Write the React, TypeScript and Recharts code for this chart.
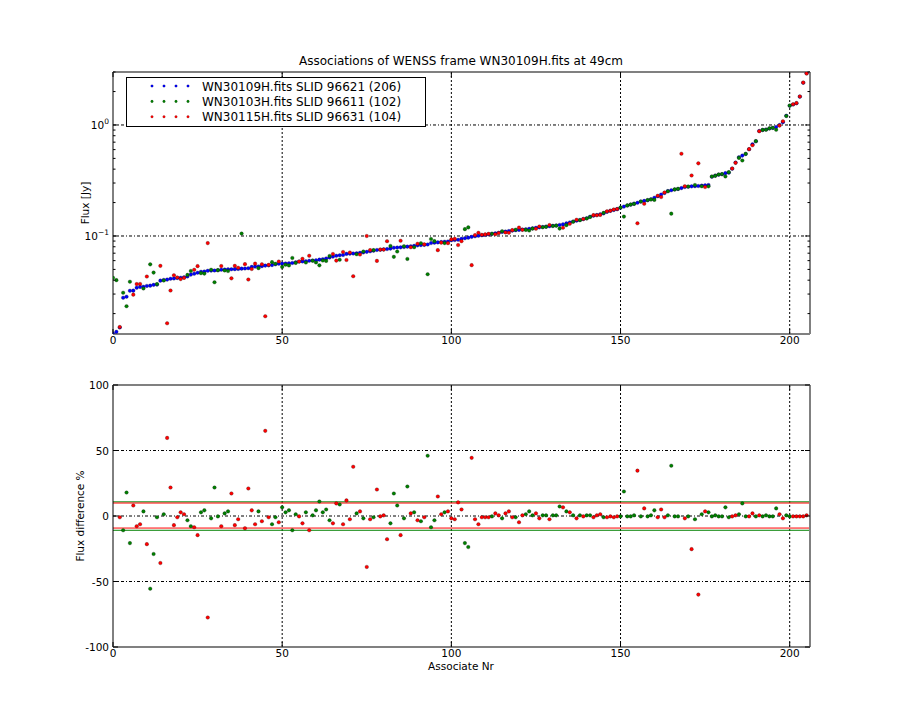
import React from 'react';
import { ScatterChart, Scatter, XAxis, YAxis, ReferenceLine } from 'recharts';

// Flux of the WN30109H.fits source (blue), one per associate, sorted
const blueFlux = [
  0.0132, 0.0137, 0.015, 0.0278, 0.0284, 0.0321, 0.0322, 0.0342, 0.0348, 0.0349,
  0.0355, 0.0357, 0.0363, 0.0365, 0.0396, 0.0402, 0.0405, 0.0412, 0.0414, 0.0419,
  0.0421, 0.0425, 0.0432, 0.0449, 0.0457, 0.0467, 0.0476, 0.0479, 0.0486, 0.0488,
  0.0489, 0.0491, 0.0497, 0.0499, 0.0501, 0.0502, 0.0503, 0.0505, 0.0508, 0.051,
  0.0513, 0.0527, 0.053, 0.0532, 0.0535, 0.0541, 0.0544, 0.0547, 0.0556, 0.0562,
  0.0564, 0.0566, 0.0568, 0.0572, 0.058, 0.0588, 0.059, 0.0593, 0.0598, 0.0601,
  0.0604, 0.0612, 0.0618, 0.0628, 0.064, 0.0652, 0.0664, 0.067, 0.0675, 0.069,
  0.0693, 0.0696, 0.0699, 0.0705, 0.0712, 0.072, 0.0728, 0.0738, 0.0748, 0.0752,
  0.0758, 0.0763, 0.077, 0.0784, 0.0787, 0.079, 0.0795, 0.0802, 0.0808, 0.0815,
  0.0824, 0.0828, 0.0832, 0.0838, 0.0864, 0.087, 0.0876, 0.0883, 0.0888, 0.0893,
  0.0915, 0.092, 0.0925, 0.0945, 0.0955, 0.0966, 0.0982, 0.0994, 0.1005, 0.1015,
  0.1023, 0.1035, 0.1045, 0.1058, 0.1068, 0.1085, 0.1098, 0.1108, 0.1118, 0.1128,
  0.1135, 0.1142, 0.115, 0.116, 0.1172, 0.1185, 0.1196, 0.1205, 0.1215, 0.1225,
  0.1235, 0.1245, 0.1258, 0.1272, 0.1298, 0.1325, 0.135, 0.1375, 0.1395, 0.142,
  0.1445, 0.149, 0.1525, 0.1545, 0.157, 0.16, 0.165, 0.1685, 0.1715, 0.1745,
  0.18, 0.184, 0.188, 0.1915, 0.1955, 0.199, 0.204, 0.207, 0.21, 0.214,
  0.221, 0.228, 0.236, 0.244, 0.254, 0.258, 0.262, 0.265, 0.27, 0.276,
  0.278, 0.28, 0.281, 0.282, 0.284, 0.286, 0.288, 0.342, 0.35, 0.357,
  0.36, 0.368, 0.372, 0.404, 0.458, 0.512, 0.53, 0.548, 0.604, 0.67,
  0.713, 0.883, 0.9, 0.91, 0.93, 0.94, 0.96, 1.0, 1.06, 1.21,
  1.49, 1.53, 1.57, 1.8, 2.4, 2.92,
];

// which frame each associate was matched in: G = WN30103H, R = WN30115H
const matchRows = [
  'GGRGGGRRRG', 'RGGGRGRRRR', 'RRGGRRGGRG', 'GGRGGRRRGR', 'RRRGRRRGGR',
  'GGGGGRRGRG', 'GGGGGRRGRR', 'RRGRGRRGRR', 'RRGGGRGGRG', 'RGRGGGRRGR',
  'RRRRGGRRRR', 'RRGRRGRRRG', 'RRGGGRRGGR', 'GGGRGRGRGR', 'GGRRRGRRRR',
  'GGGGGRGRGG', 'GRRRGGGGRR', 'GRGRGRGGGG', 'GGGRRGGGRR', 'GRGGGGGRRG',
  'GRRRRR',
];
const matchSource = matchRows.join('');

// flux difference % of the matched source against the blue one
const fluxDiff = [
  -218, -192, -1, -10.9, 17.9, -20.7, 8, -7.8, -6.3, 3.5,
  -21.5, -55.5, -29, -1, -35.9, 1.3, 59.6, 21.7, -7, -1,
  2.8, 1.3, -3.3, -7.8, -8.6, -14.6, 2.8, 4.3, -77.5, -1.8,
  21.7, -0.3, -7.8, 2, 3.5, 17.2, -7, -2.5, -107, -9.3,
  21, 4.3, -6.3, 3.5, -4, 65, -1, -6.3, -1, -4.8,
  6.6, 2.8, 4.3, -10.9, 1.3, -0.3, -5.6, 2.8, -10.9, 0.5,
  4.3, 11.1, 2.8, 5, -3.3, -5.6, 9.6, 8.8, -6.3, 11.9,
  -2.5, 37.6, 2, 3.5, -1.8, -38.9, -2.5, -1, 20.2, -0.3,
  0.5, -17.7, -5.6, 17.2, 8, -14.6, -1.8, 22.5, 2, 2.8,
  -3.3, -4, -1, 46, -8.6, -3.3, 14.9, 1.3, 2.8, 3.5,
  -1.8, -2.5, 10.4, 5, -20.7, -23.7, 44.4, -2.5, -6.3, -1,
  -1, -1, -0.3, 2, 0.5, -1.8, 2, 3.5, -1, -1,
  -4.8, 0.5, 1.3, 3.5, 0.5, 2, -1.8, 0.5, 0.5, -2.5,
  0.5, 0.5, 7.3, 6.6, 3.5, 2.8, 0.5, -1.8, 0.5, -0.3,
  0.5, 0.5, -1, 0.5, 1.3, -1, -1, -0.3, -1, -0.3,
  -0.3, 18.7, -0.3, -0.3, 0.5, 34.6, -0.3, 5.8, -0.3, 0.5,
  4.3, -1, 5, -1, 0.5, 38.4, -0.3, -0.3, -104, -1.8,
  -0.3, -25.3, -2.5, -60, 1.3, 3.5, 2.8, -0.3, 0.5, -0.3,
  -0.3, 6.6, -1, -0.3, 0.5, 1.3, 9.6, -0.3, -0.3, 2,
  -0.3, 0.5, -0.3, 0.5, -0.3, -0.3, 5.8, 1.3, -1.8, 0.5,
  -0.3, -0.3, -0.3, -0.3, -0.3, 0.5,
];

const legendLabels = [
  'WN30109H.fits SLID 96621 (206)',
  'WN30103H.fits SLID 96611 (102)',
  'WN30115H.fits SLID 96631 (104)',
];
const xTicks = [0, 50, 100, 150, 200];
const fluxTicks = [
  0.02, 0.03, 0.04, 0.05, 0.06, 0.07, 0.08, 0.09,
  0.1, 0.2, 0.3, 0.4, 0.5, 0.6, 0.7, 0.8, 0.9,
  1, 2, 3,
];
const fluxMajor = [0.1, 1];
const fluxMajorLabel: Record<string, string> = { '0.1': '\u22121', '1': '0' };
const diffTicks = [-100, -50, 0, 50, 100];
const redBand = [9.9, -9.2];
const greenBand = [10.8, -10.9];

const BLUE = '#0000ff';
const GREEN = '#008000';
const RED = '#ff0000';
const FONT = '"DejaVu Sans", sans-serif';

const PLOT_LEFT = 113;
const PLOT_RIGHT = 810;
const X_MAX = 206;
const FLUX_DOMAIN: [number, number] = [0.0131, 3.0];
const TOP_PLOT = { top: 72, bottom: 334 };
const BOT_Y = 360;
const BOT_PLOT = { top: 25, bottom: 287 };

const blueTop = blueFlux.map((v, i) => ({ x: i, y: v }));
const pick = (code: string) =>
  fluxDiff.map((d, i) => ({ i, d })).filter((p) => matchSource[p.i] === code);
const topOf = (code: string) => pick(code).map((p) => ({ x: p.i, y: blueFlux[p.i] * (1 - p.d / 100) }));
const diffOf = (code: string) =>
  pick(code).filter((p) => Math.abs(p.d) <= 100).map((p) => ({ x: p.i, y: p.d }));
const greenTop = topOf('G');
const redTop = topOf('R');
const greenDiff = diffOf('G');
const redDiff = diffOf('R');

const dot = (color: string) => (props: any) => (
  <circle cx={props.cx} cy={props.cy} r={1.8} fill={color} stroke="#000" strokeOpacity={0.35} strokeWidth={0.7} />
);

const xTick = (plot: { top: number; bottom: number }) => (props: any) => {
  const { x, payload } = props;
  return (
    <g>
      <line x1={x} x2={x} y1={plot.bottom} y2={plot.bottom - 5} stroke="#000" />
      <line x1={x} x2={x} y1={plot.top} y2={plot.top + 5} stroke="#000" />
      <text x={x} y={plot.bottom + 10} textAnchor="middle" fontSize={10.5} fontFamily={FONT} fill="#000">
        {payload.value}
      </text>
    </g>
  );
};

const fluxTick = (props: any) => {
  const { y, payload } = props;
  const major = fluxMajor.some((m) => Math.abs(m - payload.value) < 1e-9);
  const len = major ? 5 : 2.5;
  return (
    <g>
      <line x1={PLOT_LEFT} x2={PLOT_LEFT + len} y1={y} y2={y} stroke="#000" />
      <line x1={PLOT_RIGHT - len} x2={PLOT_RIGHT} y1={y} y2={y} stroke="#000" />
      {major && (
        <text x={PLOT_LEFT - 4} y={y + 4} textAnchor="end" fontSize={10.5} fontFamily={FONT} fill="#000">
          10<tspan dy={-5} fontSize={7.5}>{fluxMajorLabel[String(payload.value)]}</tspan>
        </text>
      )}
    </g>
  );
};

const diffTick = (props: any) => {
  const { y, payload } = props;
  return (
    <g>
      <line x1={PLOT_LEFT} x2={PLOT_LEFT + 5} y1={y} y2={y} stroke="#000" />
      <line x1={PLOT_RIGHT - 5} x2={PLOT_RIGHT} y1={y} y2={y} stroke="#000" />
      <text x={PLOT_LEFT - 4} y={y + 4} textAnchor="end" fontSize={10.5} fontFamily={FONT} fill="#000">
        {payload.value}
      </text>
    </g>
  );
};

const gridV = { stroke: '#000', strokeWidth: 1, strokeDasharray: '2 2' };
const gridH = { stroke: '#000', strokeWidth: 1, strokeDasharray: '3 2 1 2' };
const spineDark = { stroke: '#000', strokeWidth: 1 };
const spineGrey = { stroke: '#808080', strokeWidth: 2 };

const textStyle: React.CSSProperties = {
  position: 'absolute',
  fontFamily: FONT,
  color: '#000',
  whiteSpace: 'nowrap',
};

export default function App() {
  return (
    <div style={{ position: 'absolute', left: 0, top: 0, width: 900, height: 720, background: '#fff' }}>
      <div style={{ position: 'absolute', left: 0, top: 0 }}>
        <ScatterChart width={900} height={360} margin={{ top: TOP_PLOT.top, right: 900 - PLOT_RIGHT, bottom: 0, left: 0 }}>
          <XAxis
            type="number"
            dataKey="x"
            domain={[0, X_MAX]}
            ticks={xTicks}
            interval={0}
            height={360 - TOP_PLOT.bottom}
            allowDataOverflow
            axisLine={false}
            tickLine={false}
            tick={xTick(TOP_PLOT)}
          />
          <YAxis
            type="number"
            dataKey="y"
            scale="log"
            domain={FLUX_DOMAIN}
            ticks={fluxTicks}
            interval={0}
            width={PLOT_LEFT}
            allowDataOverflow
            axisLine={false}
            tickLine={false}
            tick={fluxTick}
          />
          {xTicks.slice(1).map((t) => (
            <ReferenceLine key={'v' + t} x={t} {...gridV} />
          ))}
          {fluxMajor.map((t) => (
            <ReferenceLine key={'h' + t} y={t} {...gridH} />
          ))}
          <ReferenceLine x={0} {...spineDark} />
          <ReferenceLine x={X_MAX} {...spineGrey} />
          <ReferenceLine y={FLUX_DOMAIN[0]} {...spineGrey} />
          <ReferenceLine y={FLUX_DOMAIN[1]} {...spineGrey} />
          <Scatter data={blueTop} fill={BLUE} shape={dot(BLUE)} isAnimationActive={false} />
          <Scatter data={greenTop} fill={GREEN} shape={dot(GREEN)} isAnimationActive={false} />
          <Scatter data={redTop} fill={RED} shape={dot(RED)} isAnimationActive={false} />
        </ScatterChart>
      </div>
      <div style={{ position: 'absolute', left: 0, top: BOT_Y }}>
        <ScatterChart width={900} height={360} margin={{ top: BOT_PLOT.top, right: 900 - PLOT_RIGHT, bottom: 0, left: 0 }}>
          <XAxis
            type="number"
            dataKey="x"
            domain={[0, X_MAX]}
            ticks={xTicks}
            interval={0}
            height={360 - BOT_PLOT.bottom}
            allowDataOverflow
            axisLine={false}
            tickLine={false}
            tick={xTick(BOT_PLOT)}
          />
          <YAxis
            type="number"
            dataKey="y"
            domain={[-100, 100]}
            ticks={diffTicks}
            interval={0}
            width={PLOT_LEFT}
            allowDataOverflow
            axisLine={false}
            tickLine={false}
            tick={diffTick}
          />
          {xTicks.slice(1).map((t) => (
            <ReferenceLine key={'v' + t} x={t} {...gridV} />
          ))}
          {diffTicks.slice(1, -1).map((t) => (
            <ReferenceLine key={'h' + t} y={t} {...gridH} />
          ))}
          {greenBand.map((t) => (
            <ReferenceLine key={'g' + t} y={t} stroke={GREEN} strokeWidth={1} />
          ))}
          {redBand.map((t) => (
            <ReferenceLine key={'r' + t} y={t} stroke={RED} strokeWidth={1} />
          ))}
          <ReferenceLine x={0} {...spineDark} />
          <ReferenceLine x={X_MAX} {...spineGrey} />
          <ReferenceLine y={-100} {...spineGrey} />
          <ReferenceLine y={100} {...spineGrey} />
          <Scatter data={greenDiff} fill={GREEN} shape={dot(GREEN)} isAnimationActive={false} />
          <Scatter data={redDiff} fill={RED} shape={dot(RED)} isAnimationActive={false} />
        </ScatterChart>
      </div>

      <div style={{ ...textStyle, left: 461, top: 61, fontSize: 12, transform: 'translate(-50%, -50%)' }}>
        Associations of WENSS frame WN30109H.fits at 49cm
      </div>
      <div style={{ ...textStyle, left: 85, top: 203, fontSize: 10.5, transform: 'translate(-50%, -50%) rotate(-90deg)' }}>
        Flux [Jy]
      </div>
      <div style={{ ...textStyle, left: 80, top: 516, fontSize: 10.5, transform: 'translate(-50%, -50%) rotate(-90deg)' }}>
        Flux difference %
      </div>
      <div style={{ ...textStyle, left: 461, top: 666, fontSize: 10.5, transform: 'translate(-50%, -50%)' }}>
        Associate Nr
      </div>

      <div
        style={{
          position: 'absolute',
          left: 126,
          top: 77,
          width: 298,
          height: 48,
          border: '1px solid #000',
          background: '#fff',
        }}
      >
        <svg width={298} height={48} style={{ position: 'absolute', left: 0, top: 0 }}>
          {legendLabels.map((label, r) => {
            const color = [BLUE, GREEN, RED][r];
            const cy = 8 + r * 15.4;
            return (
              <g key={label}>
                {[25, 37, 49, 61].map((cx) => (
                  <circle key={cx} cx={cx} cy={cy} r={1.3} fill={color} stroke="#000" strokeOpacity={0.3} strokeWidth={0.5} />
                ))}
                <text x={75} y={cy + 4.5} fontSize={12} fontFamily={FONT} fill="#000">
                  {label}
                </text>
              </g>
            );
          })}
        </svg>
      </div>
    </div>
  );
}
